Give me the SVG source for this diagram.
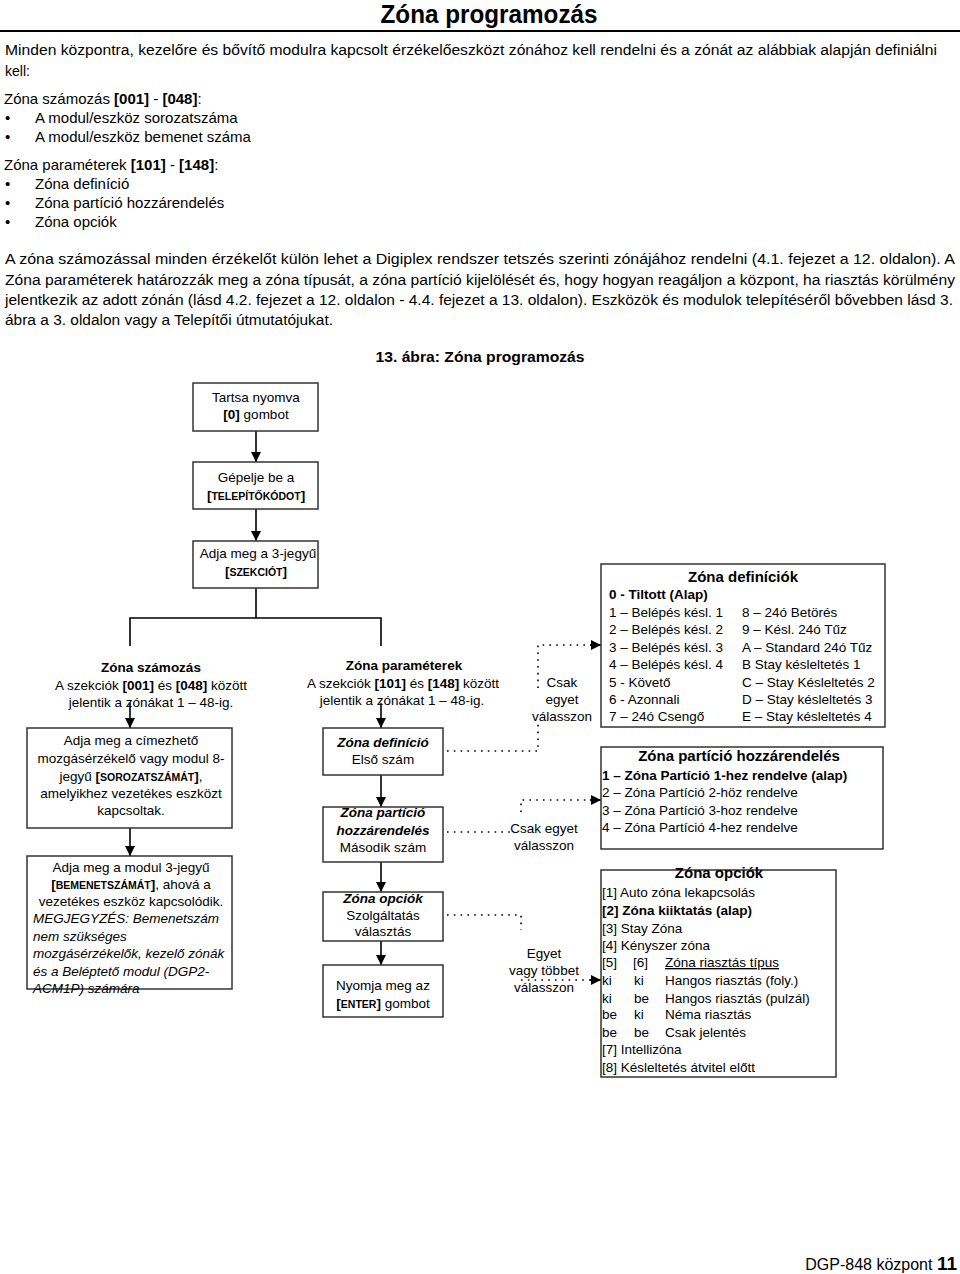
<svg xmlns="http://www.w3.org/2000/svg" width="960" height="1274" viewBox="0 0 960 1274">
<style>
text{font-family:"Liberation Sans",Arial,sans-serif;fill:#000}
.n{font-size:15.5px}
.s{font-size:15px}
.f{font-size:13.5px}
.h{font-size:15px;font-weight:bold}
.m{text-anchor:middle}
.b{font-weight:bold}
.i{font-style:italic}
.sc{font-size:10.5px;font-weight:bold}
.box{fill:#fff;stroke:#333;stroke-width:1.5}
.ln{stroke:#000;stroke-width:1.6;fill:none}
.dot{stroke:#000;stroke-width:1.6;fill:none;stroke-dasharray:1.6 5.2}
</style>
<defs>
<marker id="ah" viewBox="0 0 10 10" refX="10" refY="5" markerWidth="10" markerHeight="10" markerUnits="userSpaceOnUse" orient="auto">
<path d="M0,0 L10,5 L0,10 Z" fill="#000"/>
</marker>
</defs>
<rect width="960" height="1274" fill="#fff"/>

<g id="header">
<text x="489" y="23" class="m b" style="font-size:26px" textLength="217" lengthAdjust="spacingAndGlyphs">Zóna programozás</text>
<line x1="0" y1="31" x2="960" y2="31" stroke="#000" stroke-width="2"/>
<text x="5" y="55" class="n" textLength="932" lengthAdjust="spacingAndGlyphs">Minden központra, kezelőre és bővítő modulra kapcsolt érzékelőeszközt zónához kell rendelni és a zónát az alábbiak alapján definiálni</text>
<text x="5" y="76" class="n" textLength="25" lengthAdjust="spacingAndGlyphs">kell:</text>
<text x="4" y="104" class="s">Zóna számozás <tspan class="b">[001]</tspan> - <tspan class="b">[048]</tspan>:</text>
<text x="5" y="123" class="s">•</text><text x="35" y="123" class="s">A modul/eszköz sorozatszáma</text>
<text x="5" y="142" class="s">•</text><text x="35" y="142" class="s">A modul/eszköz bemenet száma</text>
<text x="4" y="170" class="s">Zóna paraméterek <tspan class="b">[101]</tspan> - <tspan class="b">[148]</tspan>:</text>
<text x="5" y="189" class="s">•</text><text x="35" y="189" class="s">Zóna definíció</text>
<text x="5" y="208" class="s">•</text><text x="35" y="208" class="s">Zóna partíció hozzárendelés</text>
<text x="5" y="227" class="s">•</text><text x="35" y="227" class="s">Zóna opciók</text>
<text x="5" y="264" class="n" textLength="950" lengthAdjust="spacingAndGlyphs">A zóna számozással minden érzékelőt külön lehet a Digiplex rendszer tetszés szerinti zónájához rendelni (4.1. fejezet a 12. oldalon). A</text>
<text x="5" y="285" class="n" textLength="950" lengthAdjust="spacingAndGlyphs">Zóna paraméterek határozzák meg a zóna típusát, a zóna partíció kijelölését és, hogy hogyan reagáljon a központ, ha riasztás körülmény</text>
<text x="5" y="305" class="n" textLength="948" lengthAdjust="spacingAndGlyphs">jelentkezik az adott zónán (lásd 4.2. fejezet a 12. oldalon - 4.4. fejezet a 13. oldalon). Eszközök és modulok telepítéséről bővebben lásd 3.</text>
<text x="5" y="325" class="n" textLength="328" lengthAdjust="spacingAndGlyphs">ábra a 3. oldalon vagy a Telepítői útmutatójukat.</text>
<text x="480" y="362" class="m b n" textLength="209" lengthAdjust="spacingAndGlyphs">13. ábra: Zóna programozás</text>
</g>

<g id="connectors">
<line class="ln" x1="256" y1="431" x2="256" y2="462" marker-end="url(#ah)"/>
<line class="ln" x1="256" y1="509" x2="256" y2="541" marker-end="url(#ah)"/>
<polyline class="ln" points="256,588 256,618"/>
<polyline class="ln" points="130,646 130,618 381,618 381,646"/>
<line class="ln" x1="130" y1="703" x2="130" y2="728" marker-end="url(#ah)"/>
<line class="ln" x1="130" y1="828" x2="130" y2="856" marker-end="url(#ah)"/>
<line class="ln" x1="381" y1="703" x2="381" y2="728" marker-end="url(#ah)"/>
<line class="ln" x1="381" y1="775" x2="381" y2="807" marker-end="url(#ah)"/>
<line class="ln" x1="381" y1="862" x2="381" y2="892" marker-end="url(#ah)"/>
<line class="ln" x1="381" y1="941" x2="381" y2="965" marker-end="url(#ah)"/>
<polyline class="dot" points="447,751 538,751 538,722"/>
<polyline class="dot" points="538,688 538,645 592,645"/>
<line class="ln" x1="590" y1="645" x2="601" y2="645" marker-end="url(#ah)"/>
<line class="dot" x1="447" y1="832" x2="510" y2="832"/>
<polyline class="dot" points="521,812 521,800 592,800"/>
<line class="ln" x1="590" y1="800" x2="601" y2="800" marker-end="url(#ah)"/>
<polyline class="dot" points="447,915 521,915 521,930"/>
<line class="dot" x1="521" y1="980" x2="592" y2="980"/>
<line class="ln" x1="590" y1="980" x2="601" y2="980" marker-end="url(#ah)"/>
</g>

<g id="n-tartsa">
<rect class="box" x="193" y="383" width="125" height="48"/>
<text x="256" y="402" class="f m">Tartsa nyomva</text>
<text x="256" y="419" class="f m"><tspan class="b">[0]</tspan> gombot</text>
</g>
<g id="n-gepelje">
<rect class="box" x="193" y="462" width="125" height="47"/>
<text x="256" y="482" class="f m">Gépelje be a</text>
<text x="256" y="500" class="f m"><tspan class="b">[</tspan><tspan class="sc">TELEPÍTŐKÓDOT</tspan><tspan class="b">]</tspan></text>
</g>
<g id="n-szekcio">
<rect class="box" x="193" y="541" width="125" height="47"/>
<text x="258" y="558" class="f m">Adja meg a 3-jegyű</text>
<text x="256" y="576" class="f m"><tspan class="b">[</tspan><tspan class="sc">SZEKCIÓT</tspan><tspan class="b">]</tspan></text>
</g>

<g id="n-zonaszamozas">
<text x="151" y="672" class="f m b">Zóna számozás</text>
<text x="151" y="690" class="f m">A szekciók <tspan class="b">[001]</tspan> és <tspan class="b">[048]</tspan> között</text>
<text x="151" y="707" class="f m">jelentik a zónákat 1 – 48-ig.</text>
</g>
<g id="n-sorozatszam">
<rect class="box" x="27" y="728" width="205" height="100"/>
<text x="131" y="745" class="f m">Adja meg a címezhető</text>
<text x="131" y="763" class="f m">mozgásérzékelő vagy modul 8-</text>
<text x="131" y="781" class="f m">jegyű <tspan class="b">[</tspan><tspan class="sc">SOROZATSZÁMÁT</tspan><tspan class="b">]</tspan>,</text>
<text x="131" y="798" class="f m">amelyikhez vezetékes eszközt</text>
<text x="131" y="815" class="f m">kapcsoltak.</text>
</g>
<g id="n-bemenet">
<rect class="box" x="27" y="856" width="205" height="133" style="fill:none"/>
<text x="131" y="872" class="f m">Adja meg a modul 3-jegyű</text>
<text x="131" y="889" class="f m"><tspan class="b">[</tspan><tspan class="sc">BEMENETSZÁMÁT</tspan><tspan class="b">]</tspan>, ahová a</text>
<text x="131" y="906" class="f m">vezetékes eszköz kapcsolódik.</text>
<text x="33" y="923" class="f i">MEGJEGYZÉS: Bemenetszám</text>
<text x="33" y="941" class="f i">nem szükséges</text>
<text x="33" y="958" class="f i">mozgásérzékelők, kezelő zónák</text>
<text x="33" y="976" class="f i">és a Beléptető modul (DGP2-</text>
<text x="33" y="993" class="f i">ACM1P) számára</text>
</g>

<g id="n-zonaparameterek">
<text x="404" y="670" class="f m b">Zóna paraméterek</text>
<text x="403" y="688" class="f m">A szekciók <tspan class="b">[101]</tspan> és <tspan class="b">[148]</tspan> között</text>
<text x="402" y="705" class="f m">jelentik a zónákat 1 – 48-ig.</text>
</g>
<g id="n-definicio">
<rect class="box" x="323" y="728" width="120" height="47"/>
<text x="383" y="747" class="f m b i">Zóna definíció</text>
<text x="383" y="764" class="f m">Első szám</text>
</g>
<g id="n-particio">
<rect class="box" x="323" y="807" width="120" height="55"/>
<text x="383" y="817" class="f m b i">Zóna partíció</text>
<text x="383" y="835" class="f m b i">hozzárendelés</text>
<text x="383" y="852" class="f m">Második szám</text>
</g>
<g id="n-opciok">
<rect class="box" x="323" y="892" width="120" height="49"/>
<text x="383" y="903" class="f m b i">Zóna opciók</text>
<text x="383" y="920" class="f m">Szolgáltatás</text>
<text x="383" y="936" class="f m">választás</text>
</g>
<g id="n-enter">
<rect class="box" x="323" y="965" width="120" height="52"/>
<text x="383" y="990" class="f m">Nyomja meg az</text>
<text x="383" y="1008" class="f m"><tspan class="b">[</tspan><tspan class="sc">ENTER</tspan><tspan class="b">]</tspan> gombot</text>
</g>

<g id="labels">
<text x="562" y="687" class="f m">Csak</text>
<text x="562" y="704" class="f m">egyet</text>
<text x="562" y="721" class="f m">válasszon</text>
<text x="544" y="833" class="f m">Csak egyet</text>
<text x="544" y="850" class="f m">válasszon</text>
<text x="544" y="958" class="f m">Egyet</text>
<text x="544" y="975" class="f m">vagy többet</text>
<text x="544" y="992" class="f m">válasszon</text>
</g>

<g id="n-zonadefiniciok">
<rect class="box" x="601" y="564" width="284" height="163"/>
<text x="743" y="582" class="h m">Zóna definíciók</text>
<text x="609" y="599" class="f b">0 - Tiltott (Alap)</text>
<text x="609" y="617" class="f">1 – Belépés késl. 1</text>
<text x="609" y="634" class="f">2 – Belépés késl. 2</text>
<text x="609" y="652" class="f">3 – Belépés késl. 3</text>
<text x="609" y="669" class="f">4 – Belépés késl. 4</text>
<text x="609" y="687" class="f">5 - Követő</text>
<text x="609" y="704" class="f">6 - Azonnali</text>
<text x="609" y="721" class="f">7 – 24ó Csengő</text>
<text x="742" y="617" class="f">8 – 24ó Betörés</text>
<text x="742" y="634" class="f">9 – Késl. 24ó Tűz</text>
<text x="742" y="652" class="f">A – Standard 24ó Tűz</text>
<text x="742" y="669" class="f">B Stay késleltetés 1</text>
<text x="742" y="687" class="f">C – Stay Késleltetés 2</text>
<text x="742" y="704" class="f">D – Stay késleltetés 3</text>
<text x="742" y="721" class="f">E – Stay késleltetés 4</text>
</g>

<g id="n-particiohozzarendeles">
<rect class="box" x="601" y="747" width="282" height="102"/>
<text x="739" y="761" class="h m">Zóna partíció hozzárendelés</text>
<text x="602" y="780" class="f b">1 – Zóna Partíció 1-hez rendelve (alap)</text>
<text x="602" y="797" class="f">2 – Zóna Partíció 2-höz rendelve</text>
<text x="602" y="815" class="f">3 – Zóna Partíció 3-hoz rendelve</text>
<text x="602" y="832" class="f">4 – Zóna Partíció 4-hez rendelve</text>
</g>

<g id="n-zonaopciok">
<rect class="box" x="601" y="870" width="235" height="207"/>
<text x="719" y="878" class="h m">Zóna opciók</text>
<text x="602" y="897" class="f">[1] Auto zóna lekapcsolás</text>
<text x="602" y="915" class="f b">[2] Zóna kiiktatás (alap)</text>
<text x="602" y="933" class="f">[3] Stay Zóna</text>
<text x="602" y="950" class="f">[4] Kényszer zóna</text>
<text x="602" y="967" class="f">[5]</text><text x="633" y="967" class="f">[6]</text><text x="665" y="967" class="f" text-decoration="underline">Zóna riasztás típus</text>
<text x="602" y="985" class="f">ki</text><text x="634" y="985" class="f">ki</text><text x="665" y="985" class="f">Hangos riasztás (foly.)</text>
<text x="602" y="1003" class="f">ki</text><text x="634" y="1003" class="f">be</text><text x="665" y="1003" class="f">Hangos riasztás (pulzál)</text>
<text x="602" y="1019" class="f">be</text><text x="634" y="1019" class="f">ki</text><text x="665" y="1019" class="f">Néma riasztás</text>
<text x="602" y="1037" class="f">be</text><text x="634" y="1037" class="f">be</text><text x="665" y="1037" class="f">Csak jelentés</text>
<text x="602" y="1054" class="f">[7] Intellizóna</text>
<text x="602" y="1072" class="f">[8] Késleltetés átvitel előtt</text>
</g>

<g id="footer">
<text x="957" y="1270" style="font-size:16px;text-anchor:end">DGP-848 központ <tspan class="b" style="font-size:19px">11</tspan></text>
</g>
</svg>
